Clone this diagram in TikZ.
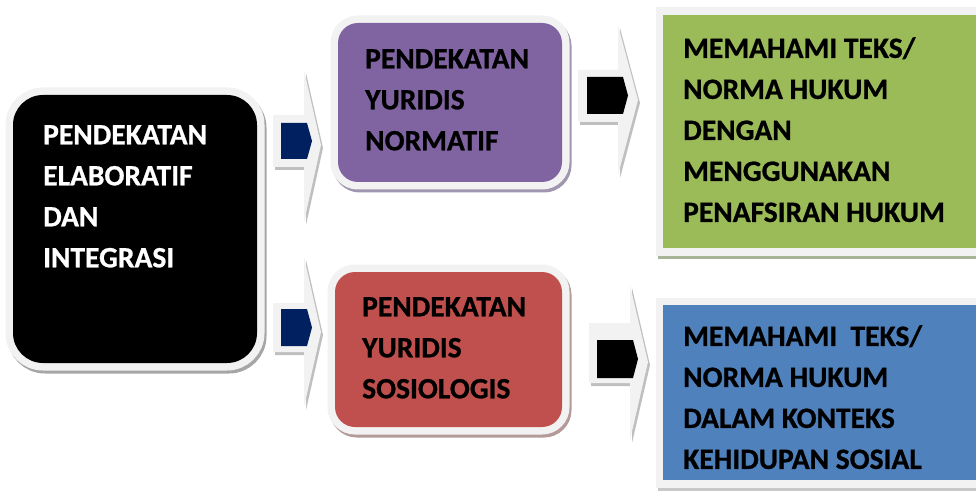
\documentclass[tikz,border=0pt]{standalone}
\usepackage{fontspec}
\setmainfont{Carlito}[BoldFeatures={FakeBold=0.8}]
\definecolor{cpurple}{HTML}{8064A2}
\definecolor{cred}{HTML}{C0504D}
\definecolor{cgreen}{HTML}{9BBB59}
\definecolor{cblue}{HTML}{4F81BD}
\definecolor{cnavy}{HTML}{002060}
\definecolor{cframe}{HTML}{F2F2F2}
\definecolor{shblack}{HTML}{A6A6A6}
\definecolor{shpurple}{HTML}{A096B0}
\definecolor{shred}{HTML}{B59A9A}
\definecolor{shgreen}{HTML}{A8B496}
\definecolor{shblue}{HTML}{C8C8C8}
\definecolor{sharrow}{HTML}{BFBFBF}
\begin{document}
\begin{tikzpicture}[x=1pt,y=-1pt,
  box/.style n args={2}{rectangle, inner sep=0pt, fill=#1,
    preaction={draw=#2, fill=#2, line width=15pt, transform canvas={xshift=2pt,yshift=-3pt}},
    preaction={draw=cframe, fill=cframe, line width=15pt}},
  txt/.style={inner sep=0pt, align=left, anchor=north west,
    font=\bfseries\fontsize{29.5}{41}\selectfont},
  arrbody/.style={fill=cframe, preaction={fill=sharrow, transform canvas={xshift=2pt,yshift=-3pt}}}
]
\useasboundingbox (0,0) rectangle (976,494);
\fill[white] (0,0) rectangle (976,494);

% boxes
\node[box={black}{shblack}, rounded corners=30pt, minimum width=244pt, minimum height=268pt] (src) at (135,229) {};
\node[box={cpurple}{shpurple}, rounded corners=20pt, minimum width=224pt, minimum height=159pt] (norm) at (450,102.5) {};
\node[box={cred}{shred}, rounded corners=20pt, minimum width=227pt, minimum height=155pt] (sos) at (448.5,349.5) {};
\node[box={cgreen}{shgreen}, minimum width=337pt, minimum height=233pt] (res1) at (831.5,131.5) {};
\node[box={cblue}{shblue}, minimum width=337pt, minimum height=175pt] (res2) at (831.5,392.5) {};

% texts
\node[txt, text=white] (srcT) at (43,125) {PENDEKATAN\\ELABORATIF\\DAN\\INTEGRASI};
\node[txt] (normT) at (365,49) {PENDEKATAN\\YURIDIS\\NORMATIF};
\node[txt] (sosT) at (362,297) {PENDEKATAN\\YURIDIS\\SOSIOLOGIS};
\node[txt] (res1T) at (683,37) {MEMAHAMI TEKS/\\NORMA HUKUM\\DENGAN\\MENGGUNAKAN\\PENAFSIRAN HUKUM};
\node[txt] (res2T) at (683,325) {MEMAHAMI\ \ TEKS/\\NORMA HUKUM\\DALAM KONTEKS\\KEHIDUPAN SOSIAL};

% block arrows
\path[arrbody] (273,115) -- (304,115) -- (304,70) -- (321,145) -- (304,222) -- (304,167) -- (273,167) -- cycle;
\fill[cnavy] (281,123) -- (307,123) -- (312,141) -- (307,159) -- (281,159) -- cycle;

\path[arrbody] (273,303) -- (304,303) -- (304,257) -- (321,332) -- (304,407) -- (304,352) -- (273,352) -- cycle;
\fill[cnavy] (281,309) -- (307,309) -- (312,327.5) -- (307,346) -- (281,346) -- cycle;

\path[arrbody] (578,70) -- (618,70) -- (618,25) -- (638,100) -- (618,175) -- (618,122) -- (578,122) -- cycle;
\fill[black] (587,77) -- (623,77) -- (628,95.5) -- (623,114) -- (587,114) -- cycle;

\path[arrbody] (589,323) -- (630,323) -- (630,285) -- (648,362) -- (630,440) -- (630,383) -- (589,383) -- cycle;
\fill[black] (597,340) -- (633,340) -- (638,359) -- (633,378) -- (597,378) -- cycle;
\end{tikzpicture}
\end{document}
